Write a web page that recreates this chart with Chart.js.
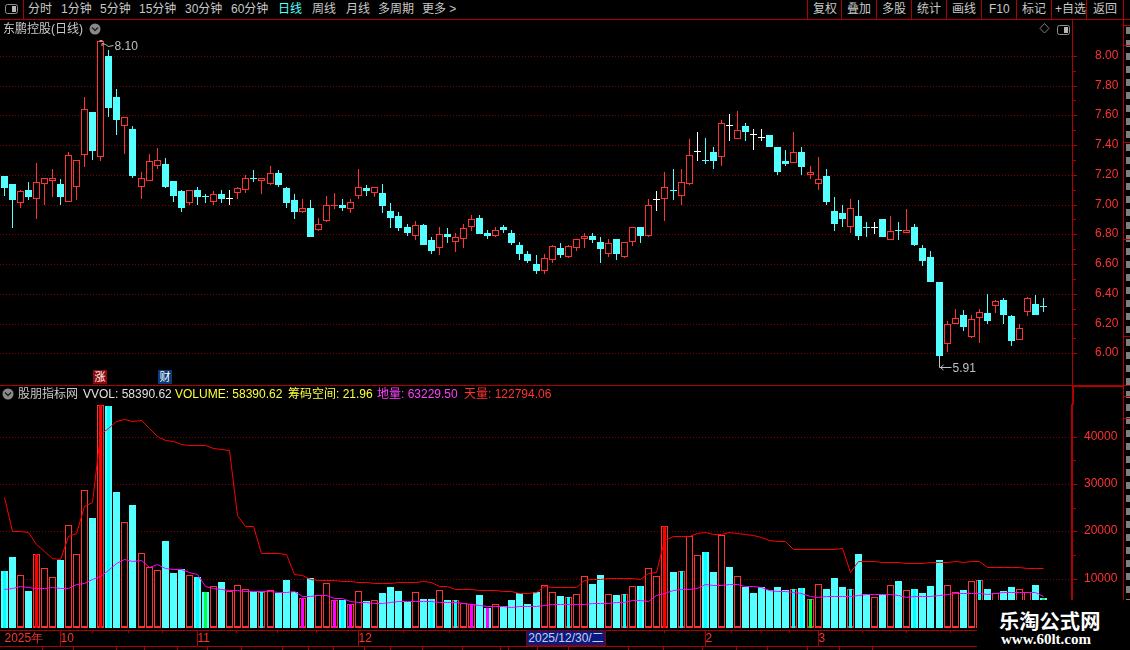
<!DOCTYPE html>
<html>
<head>
<meta charset="utf-8">
<title>东鹏控股(日线)</title>
<script src="https://cdn.jsdelivr.net/npm/chart.js@4"></script>
<style>
html,body{margin:0;padding:0;background:#000;width:1130px;height:650px;overflow:hidden}
canvas{position:absolute;left:0;display:block}
#stage{position:absolute;left:0;top:0;width:1130px;height:650px;overflow:hidden;font:12px "Liberation Sans","Noto Sans CJK SC",sans-serif;color:#c8c8c8}
.t{position:absolute;white-space:nowrap;line-height:14px;transform:translateY(-50%);z-index:5}
.l{position:absolute;background:#b00000;z-index:4}
</style>
</head>
<body>
<div id="stage">
<canvas id="priceCanvas" width="1130" height="365" style="top:20px"></canvas>
<canvas id="volCanvas" width="1130" height="264" style="top:386px"></canvas>
</div>
<script>
// ---------- data ----------
const open = [7.19,7.14,7.01,7.10,7.04,7.14,7.16,7.14,7.02,7.12,
7.33,7.62,7.32,8.00,7.72,7.53,7.51,7.12,7.16,7.26,
7.27,7.16,7.09,7.01,7.10,7.06,7.02,7.07,7.04,7.08,
7.10,7.18,7.16,7.14,7.21,7.11,7.03,6.95,6.98,6.83,
6.89,6.99,7.00,6.97,7.06,7.11,7.08,7.08,6.96,6.92,
6.85,6.79,6.86,6.76,6.71,6.80,6.75,6.77,6.85,6.91,
6.81,6.79,6.85,6.81,6.73,6.67,6.60,6.55,6.63,6.71,
6.65,6.71,6.77,6.79,6.75,6.67,6.77,6.65,6.75,6.85,
6.79,7.03,7.04,7.09,7.06,7.14,7.35,7.30,7.35,7.32,
7.53,7.44,7.53,7.47,7.45,7.47,7.39,7.29,7.28,7.35,
7.20,7.14,7.19,6.96,6.94,6.85,6.92,6.85,6.84,6.90,
6.76,6.82,6.81,6.85,6.71,6.65,6.48,6.06,6.20,6.26,
6.11,6.24,6.27,6.32,6.36,6.25,6.09,6.28,6.33,6.31];
const close = [7.11,7.03,7.09,7.05,7.15,7.18,7.18,7.05,7.33,7.30,
7.64,7.36,8.10,7.65,7.57,7.59,7.19,7.18,7.29,7.30,
7.12,7.06,6.98,7.10,7.05,7.05,7.07,7.04,7.04,7.11,
7.18,7.17,7.18,7.21,7.13,7.01,6.95,6.98,6.78,6.87,
7.00,7.00,6.98,7.02,7.12,7.09,7.12,6.99,6.91,6.84,
6.81,6.86,6.73,6.69,6.80,6.78,6.78,6.84,6.90,6.80,
6.79,6.83,6.83,6.74,6.67,6.62,6.55,6.64,6.72,6.66,
6.72,6.77,6.79,6.76,6.70,6.74,6.67,6.75,6.85,6.79,
7.00,7.03,7.12,7.09,7.15,7.33,7.35,7.29,7.29,7.55,
7.53,7.50,7.49,7.47,7.45,7.39,7.22,7.27,7.35,7.25,
7.22,7.17,7.02,6.87,6.90,6.98,6.79,6.84,6.84,6.78,
6.82,6.82,6.83,6.73,6.62,6.48,5.98,6.20,6.24,6.18,
6.23,6.28,6.22,6.35,6.26,6.08,6.17,6.37,6.26,6.31];
const high = [7.19,7.14,7.10,7.15,7.28,7.18,7.24,7.17,7.35,7.30,
7.72,7.62,8.10,8.04,7.78,7.59,7.53,7.22,7.34,7.38,
7.31,7.16,7.10,7.10,7.12,7.07,7.09,7.10,7.10,7.12,
7.20,7.23,7.18,7.26,7.23,7.12,7.07,7.04,7.03,6.91,
7.06,7.08,7.04,7.04,7.24,7.13,7.12,7.14,7.01,6.95,
6.87,6.89,6.87,6.78,6.85,6.84,6.81,6.87,6.93,6.93,
6.83,6.85,6.86,6.83,6.75,6.69,6.66,6.67,6.73,6.74,
6.73,6.77,6.81,6.81,6.78,6.77,6.77,6.75,6.85,6.85,
7.04,7.09,7.22,7.24,7.24,7.44,7.49,7.45,7.39,7.57,
7.61,7.63,7.55,7.51,7.51,7.47,7.39,7.37,7.49,7.39,
7.26,7.32,7.24,7.05,7.00,7.04,7.03,6.88,6.88,6.90,
6.92,6.88,6.97,6.87,6.73,6.69,6.48,6.22,6.30,6.29,
6.26,6.30,6.40,6.36,6.37,6.26,6.20,6.38,6.39,6.37];
const low = [7.06,6.84,6.98,7.03,6.90,7.00,7.05,7.00,7.02,7.03,
7.25,7.30,7.29,7.59,7.47,7.34,7.18,7.04,7.16,7.24,
7.11,7.02,6.95,7.00,7.00,7.01,7.00,7.01,7.00,7.04,
7.08,7.15,7.07,7.13,7.12,6.98,6.90,6.94,6.78,6.82,
6.88,6.97,6.96,6.94,7.04,7.06,7.05,6.94,6.84,6.82,
6.79,6.76,6.73,6.67,6.66,6.74,6.68,6.71,6.82,6.80,
6.77,6.78,6.81,6.73,6.63,6.61,6.53,6.53,6.61,6.64,
6.64,6.69,6.71,6.74,6.61,6.65,6.63,6.64,6.72,6.74,
6.78,6.96,6.89,7.03,7.00,7.13,7.29,7.27,7.24,7.26,
7.43,7.44,7.43,7.37,7.43,7.39,7.20,7.26,7.28,7.20,
7.17,7.10,7.00,6.82,6.85,6.81,6.76,6.78,6.80,6.78,
6.76,6.76,6.81,6.72,6.59,6.48,5.91,6.01,6.20,6.15,
6.10,6.07,6.20,6.27,6.20,6.05,6.09,6.25,6.26,6.28];
const volume = [11630,14590,10716,7400,15160,12200,10290,13960,21290,15160,
28690,22840,46700,46530,28340,21930,25590,15370,12400,11770,
17980,11210,11985,10716,10290,7190,8390,9306,7400,8600,
7755,7190,7190,7540,6980,9730,7190,5850,10150,6490,
9020,5430,5500,4580,7330,5217,5500,6980,8250,7400,
5076,7120,5710,5710,7540,5500,5500,4860,4510,6560,
3810,4580,4160,5500,6910,4650,7120,8600,7120,6345,
6060,6700,10500,8880,10790,6700,6560,6700,8390,8460,
12200,10500,21080,11420,11560,19035,14950,15650,11420,19250,
12480,10500,8250,6980,8180,7610,8250,7610,7755,8040,
5640,8810,7825,10150,8250,7755,15230,6700,6060,6770,
8600,9520,7610,7825,6980,8460,13960,8600,7120,7610,
9450,9730,7825,6980,7400,8250,7755,7190,8670,5920];
const ceilingLine = [27210,20020,20020,19880,17270,15720,14380,14100,19035,19670,
25240,26160,40600,41800,43220,43780,43220,43570,41800,40185,
39340,38990,38420,38210,38210,38210,37580,37365,37150,23335,
21150,21010,15370,15370,15370,15160,11000,10790,9870,9660,
9660,9660,9450,9450,9240,9235,9024,9024,9024,9235,
9235,9235,9447,9235,8390,8390,7755,7755,7755,7540,
7540,7540,7330,7330,6910,6910,7120,8390,8180,8180,
8180,8180,9660,9870,9870,10080,10080,10080,10080,9870,
11140,11350,18190,18965,19035,19035,19670,19880,19460,19390,
19880,19530,19390,19180,18750,18050,17840,17840,16215,16215,
16215,16215,16215,16215,16430,11350,13610,13610,13610,13465,
13395,13395,13185,13185,13255,13395,13395,13395,13680,13465,
13680,13680,12410,12410,12410,12410,12410,12200,12200,12200];
const floorLine = [7755,7970,8390,8180,7970,7970,8180,8100,7970,8880,
9095,9870,10430,11840,13325,14100,13680,13890,12400,13040,
12200,11985,11985,11350,10930,8390,7970,7755,7540,7540,
7330,7260,7260,7260,7120,7120,7330,6275,6275,6486,
6486,5850,5850,5217,5005,5076,4865,4865,5076,5290,
5290,5217,5217,5217,5076,5076,5076,4865,4580,4370,
4160,4160,4090,3950,4160,4160,4160,4370,4580,4580,
4580,4580,4580,4794,4794,4794,5005,5005,5430,5430,
5217,6486,6910,7540,7755,7755,7965,8810,8600,8670,
8810,8810,8390,8390,8180,7540,7330,7330,7120,6910,
6275,6060,6275,6275,6275,6275,6486,6700,6700,6700,
6700,6556,6060,6275,6275,6275,6486,6700,6910,6910,
6910,6910,6700,6910,7190,7190,7190,7120,7120,6345];
const priceTicks = [6.0,6.2,6.4,6.6,6.8,7.0,7.2,7.4,7.6,7.8,8.0];
const priceMinorTicks = [6.1,6.3,6.5,6.7,6.9,7.1,7.3,7.5,7.7,7.9];
const volTicks = [10000,20000,30000,40000];
const volMinorTicks = [5000,15000,25000,35000];
const xTickLabels = {0:'2025年',7:'10',24:'11',44:'12',87:'2',101:'3'};
const xMinorTicks = [11,15.4,19.6,28.9,33.9,38.8,49.6,55.3,81.9,90.2,94,97.4,106.5,112,117.4];
const flatWhiteDays = [28,81,86,90,93,94,108];
const flatUpVolumeDays = [28,81,86,108];
const coreRedDays = [4,12,82];
const coreCyanDays = [0,13,24,32,42,53,56,70,77,79,84,87,98,99,105,113,121];
const coreGreenDays = [25,100,129];
const coreMagentaDays = [37,41,43,58,60];
const categories = Array.from({length:133},(_,i)=>i);   // 130 trading days + empty space on the right

// ---------- palette ----------
const RED='#ff3232', CYAN='#54ffff', CYAN2='#00ffff', WHITE='#ffffff', GREEN='#00ff40', MAGENTA='#ff00ff', LINE='#b00000', GRID='#800000';

// ---------- scales snapped to whole pixels ----------
class SnapCategory extends Chart.CategoryScale {
  static id='snapCategory'; static defaults=Chart.CategoryScale.defaults;
  getPixelForValue(v,i){const p=super.getPixelForValue(v,i);return Math.floor(p)+0.5;}
  getPadding(){return {left:0,right:0,top:0,bottom:0};}
}
class SnapLinear extends Chart.LinearScale {
  static id='snapLinear'; static defaults=Chart.LinearScale.defaults;
  getPixelForValue(v){return Math.round(super.getPixelForValue(v));}
  getPadding(){return {left:0,right:0,top:0,bottom:0};}
}
class SnapLinearLine extends Chart.LinearScale {
  static id='snapLinearLine'; static defaults=Chart.LinearScale.defaults;
  getPixelForValue(v){return Math.round(super.getPixelForValue(v))+0.5;}
  getPadding(){return {left:0,right:0,top:0,bottom:0};}
}
Chart.register(SnapCategory,SnapLinear,SnapLinearLine);

const minorMarks={id:'minorMarks',afterDraw(chart,args,o){
  const c=chart.ctx;c.save();c.fillStyle=LINE;
  const y=chart.scales.y,x=chart.scales.x;
  (o.y||[]).forEach(v=>{c.fillRect(Math.floor(y.left)+1,Math.floor(y.getPixelForValue(v)),o.yLen,1);});
  (o.x||[]).forEach(v=>{c.fillRect(Math.floor(x.getPixelForValue(v)),Math.floor(x.top),1,o.xLen);});
  c.restore();
}};
const extremes={id:'extremes',afterDatasetsDraw(chart){
  const c=chart.ctx,x=chart.scales.x,y=chart.scales.y;c.save();c.strokeStyle='#c0c0c0';c.lineWidth=1;
  const hx=x.getPixelForValue(12),hy=y.getPixelForValue(8.10);
  c.beginPath();c.moveTo(hx+1.5,hy+2.5);c.lineTo(hx+5,hy+3.5);c.lineTo(hx+8,hy+5.5);c.lineTo(hx+13,hy+4.5);
  c.moveTo(hx+1.5,hy+2.5);c.lineTo(hx+1.5,hy+5);c.stroke();
  c.fillStyle='#ff8080';c.fillRect(hx-1,hy-1,3,2);
  const lx=x.getPixelForValue(116),ly=y.getPixelForValue(5.91);
  c.beginPath();c.moveTo(lx,ly-8);c.lineTo(lx,ly+0.5);c.moveTo(lx,ly+0.5);c.lineTo(lx+12,ly+0.5);
  c.moveTo(lx+1,ly+0.5);c.lineTo(lx+4,ly-2);c.moveTo(lx+1,ly+0.5);c.lineTo(lx+4,ly+3);c.stroke();
  c.restore();
}};

const isFlatWhite=i=>flatWhiteDays.includes(i);
const candleColor=i=>close[i]>open[i]?RED:(close[i]<open[i]?CYAN:(isFlatWhite(i)?WHITE:CYAN));
const isVolUp=i=>close[i]>open[i]||flatUpVolumeDays.includes(i);

const tickFont={family:'"Liberation Sans",sans-serif',size:12};
const baseOpts={responsive:false,animation:false,devicePixelRatio:1,events:[],
  plugins:{legend:{display:false},tooltip:{enabled:false},title:{display:false}}};

const priceChart=new Chart(document.getElementById('priceCanvas'),{
  type:'bar',
  data:{labels:categories,datasets:[
    {label:'wick',order:2,data:open.map((_,i)=>[low[i],high[i]]),barThickness:1,grouped:false,
     backgroundColor:c=>candleColor(c.dataIndex),borderWidth:0,inflateAmount:0},
    {label:'body',order:1,data:open.map((_,i)=>[open[i],close[i]]),barThickness:7,minBarLength:1,grouped:false,
     backgroundColor:c=>close[c.dataIndex]>open[c.dataIndex]?'#000':candleColor(c.dataIndex),
     borderColor:c=>candleColor(c.dataIndex),
     borderWidth:c=>close[c.dataIndex]>open[c.dataIndex]?1:0,
     borderSkipped:false,inflateAmount:0}
  ]},
  options:{...baseOpts,
    layout:{padding:0},
    scales:{
      x:{type:'snapCategory',offset:true,display:false,grid:{offset:false}},
      y:{type:'snapLinear',position:'right',min:5.787,max:8.2407,
        afterFit:s=>{s.width=58;},
        afterBuildTicks:s=>{s.ticks=priceTicks.map(v=>({value:v}));},
        grid:{color:GRID,lineWidth:1,tickColor:LINE,tickLength:5},
        border:{color:LINE,width:1,dash:[1,2]},
        ticks:{color:RED,font:tickFont,padding:18,autoSkip:false,callback:v=>Number(v).toFixed(2)}
      }
    },
    plugins:{...baseOpts.plugins,minorMarks:{y:priceMinorTicks,yLen:3}}
  },
  plugins:[minorMarks,extremes]
});

const volBase=-420;
const coreData=days=>volume.map((v,i)=>days.includes(i)?[volBase,v]:null);
const coreSet=(days,color)=>({type:'bar',order:2,data:coreData(days),barThickness:3,grouped:false,backgroundColor:color,borderWidth:0,inflateAmount:0});

const volChart=new Chart(document.getElementById('volCanvas'),{
  type:'bar',
  data:{labels:categories,datasets:[
    {label:'天量',type:'line',order:0,yAxisID:'yl',data:ceilingLine,borderColor:'#ff0000',borderWidth:1,pointRadius:0,tension:0},
    {label:'地量',type:'line',order:0,yAxisID:'yl',data:floorLine,borderColor:MAGENTA,borderWidth:1,pointRadius:0,tension:0},
    coreSet(coreRedDays,'#ff0000'),
    coreSet(coreCyanDays,CYAN2),
    coreSet(coreGreenDays,GREEN),
    coreSet(coreMagentaDays,MAGENTA),
    {label:'foot',order:3,data:volume.map((v,i)=>isVolUp(i)?[volBase,0]:null),barThickness:7,grouped:false,backgroundColor:RED,borderWidth:0,inflateAmount:0},
    {label:'VOL',order:4,data:volume.map(v=>[volBase,v]),barThickness:7,grouped:false,
     backgroundColor:c=>isVolUp(c.dataIndex)?'#000':CYAN,
     borderColor:RED,borderWidth:c=>isVolUp(c.dataIndex)?1:0,borderSkipped:false,inflateAmount:0}
  ]},
  options:{...baseOpts,
    layout:{padding:{top:19,bottom:4,left:0,right:0}},
    scales:{
      x:{type:'snapCategory',offset:true,position:'bottom',
        afterFit:s=>{s.height=16;},
        grid:{offset:false,drawOnChartArea:false,tickLength:16,tickColor:c=>(c.index in xTickLabels&&c.index!==0)?LINE:'rgba(0,0,0,0)'},
        border:{color:LINE,width:1},
        ticks:{color:RED,font:tickFont,autoSkip:false,maxRotation:0,minRotation:0,align:'start',padding:-15,labelOffset:0,
          callback:(v,i)=>xTickLabels[i]||''}
      },
      y:{type:'snapLinear',position:'right',min:-888,max:46710,
        afterFit:s=>{s.width=58;},
        afterBuildTicks:s=>{s.ticks=volTicks.map(v=>({value:v}));},
        grid:{color:GRID,lineWidth:1,tickColor:LINE,tickLength:5},
        border:{color:LINE,width:2,dash:[1,2]},
        ticks:{color:RED,font:tickFont,padding:7,autoSkip:false,callback:v=>String(v)}
      },
      yl:{type:'snapLinearLine',display:false,min:-888,max:46710}
    },
    plugins:{...baseOpts.plugins,minorMarks:{y:volMinorTicks,yLen:3,x:xMinorTicks,xLen:3}}
  },
  plugins:[minorMarks]
});

// ---------- surrounding terminal chrome ----------
const stage=document.getElementById('stage');
function txt(s,x,y,color,css){const d=document.createElement('div');d.className='t';d.textContent=s;d.style.left=x+'px';d.style.top=y+'px';if(color)d.style.color=color;if(css)d.style.cssText+=css;stage.appendChild(d);return d;}
function ln(x,y,w,h,color){const d=document.createElement('div');d.className='l';d.style.cssText+=`left:${x}px;top:${y}px;width:${w}px;height:${h}px;`+(color?`background:${color};`:'');stage.appendChild(d);return d;}
function svg(x,y,w,h,inner){const d=document.createElement('div');d.style.cssText=`position:absolute;left:${x}px;top:${y}px;width:${w}px;height:${h}px;z-index:6`;d.innerHTML=`<svg xmlns="http://www.w3.org/2000/svg" width="${w}" height="${h}">${inner}</svg>`;stage.appendChild(d);}

// toolbar
ln(0,19,1130,1);
ln(23,0,1,19);
[807,841,876,911,946,981,1016,1051,1086,1123].forEach(x=>ln(x,0,1,19));
[['分时',28],['1分钟',61],['5分钟',100],['15分钟',139],['30分钟',185],['60分钟',231],['周线',312],['月线',346],['多周期',378],['更多 >',422],
 ['复权',813],['叠加',847],['多股',882],['统计',917],['画线',952],['F10',989],['标记',1022],['+自选',1055],['返回',1093]]
 .forEach(([s,x])=>txt(s,x,9));
txt('日线',278,9,'#54ffff');
const modeIcon=(x,y)=>svg(x,y,14,11,'<rect x="0.5" y="0.5" width="12" height="9" rx="2" fill="none" stroke="#909090"/><rect x="7" y="2" width="4" height="6" fill="#b8b8b8"/>');
modeIcon(5,4);
modeIcon(1057,25);
svg(1039,23,11,11,'<path d="M5.5 0.5 L10 5.5 L5.5 10 L1 5.5 Z" fill="none" stroke="#808080"/>');

// price panel header
txt('东鹏控股(日线)',3,29);
const chevron=(x,y)=>svg(x,y,12,12,'<circle cx="6" cy="6" r="5.5" fill="#8a8a8a"/><path d="M3 4.5 L6 7.5 L9 4.5" fill="none" stroke="#222" stroke-width="1.5"/>');
chevron(89,23);
chevron(2,388);

// right-hand panel edge
ln(1123,19,1,581);
[25,45,142,239,336,396,418].forEach(y=>ln(1123,y,7,1));
const edge=document.createElement('div');
edge.style.cssText='position:absolute;left:1126px;top:27px;width:4px;height:573px;z-index:3;background:repeating-linear-gradient(180deg,#a8a8a8 0 7px,#000 7px 13px);opacity:.75';
stage.appendChild(edge);

// panel separators
ln(0,385,1130,1);
ln(1072,385,2,20);
ln(1072,385,52,2);

// extreme labels, positioned through the chart's scales
const px=priceChart.scales.x,py=priceChart.scales.y;
txt('8.10',px.getPixelForValue(12)+14,20+py.getPixelForValue(8.10)+5,'#c0c0c0');
txt('5.91',px.getPixelForValue(116)+13,20+py.getPixelForValue(5.91)+1,'#c0c0c0');

// news / finance markers
const badge=(s,idx,bg)=>{const d=txt(s,Math.floor(px.getPixelForValue(idx))-7,377,'#fff',`background:${bg};width:14px;height:14px;text-align:center;font-size:11px;`);return d;};
badge('涨',12,'#8c0a0a');
badge('财',20,'#0a3a78');

// indicator legend
txt('股朋指标网',18,394);
txt('VVOL: 58390.62',83,394,'#e0e0e0');
txt('VOLUME: 58390.62',175,394,'#ffff3c');
txt('筹码空间: 21.96',288,394,'#ffff3c');
txt('地量: 63229.50',377,394,'#ff40ff');
txt('天量: 122794.06',464,394,'#ff3232');

// date bar
ln(0,646,977,1);
[42,73,116,144,177,207,241,282,308,333,364,390,422,462,500,508,537,568,628,663,702,736,767,807,839,872].forEach(x=>ln(x,647,1,3));
const dateBox=txt('2025/12/30/二',527,638,'#c8d0e8','background:#0a1a80;outline:1px solid #8a0000;width:78px;height:14px;text-align:center;');

// watermark
const wm=document.createElement('div');
wm.style.cssText='position:absolute;left:977px;top:600px;width:153px;height:50px;background:#000;z-index:8';
stage.appendChild(wm);
const w1=txt('乐淘公式网',999,619.5,'#ffffff','font:bold 20.3px "Noto Sans CJK SC";z-index:9;line-height:24px;');
const w2=txt('www.60lt.com',1001,639,'#ffffff','font:bold 15px "Liberation Serif";z-index:9;');
</script>
</body>
</html>
